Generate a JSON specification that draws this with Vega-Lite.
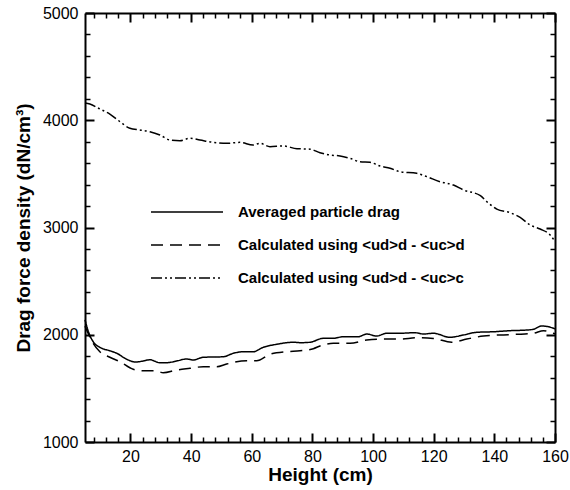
{
  "$schema": "https://vega.github.io/schema/vega-lite/v6.json",
  "width": 470,
  "height": 429,
  "autosize": {"type": "none"},
  "padding": {"left": 85, "top": 13, "right": 15, "bottom": 48},
  "background": "white",
  "config": {
    "view": {"stroke": null},
    "font": "Liberation Sans",
    "axis": {
      "grid": false,
      "ticks": true,
      "zindex": 1,
      "domainColor": "black",
      "domainWidth": 2,
      "tickColor": "black",
      "labelColor": "black",
      "labelFontSize": 16,
      "titleFontSize": 19,
      "titleFontWeight": "bold",
      "titleColor": "black",
      "labelFlush": false,
      "labelOverlap": false
    }
  },
  "data": {
    "values": [
      {"h": 5, "v": 2140, "s": "Averaged particle drag"},
      {"h": 6.1, "v": 2030, "s": "Averaged particle drag"},
      {"h": 7.7, "v": 1935, "s": "Averaged particle drag"},
      {"h": 9.9, "v": 1883, "s": "Averaged particle drag"},
      {"h": 13.2, "v": 1851, "s": "Averaged particle drag"},
      {"h": 15.5, "v": 1827, "s": "Averaged particle drag"},
      {"h": 18.8, "v": 1771, "s": "Averaged particle drag"},
      {"h": 21.5, "v": 1746, "s": "Averaged particle drag"},
      {"h": 24.2, "v": 1755, "s": "Averaged particle drag"},
      {"h": 26.4, "v": 1767, "s": "Averaged particle drag"},
      {"h": 29.7, "v": 1739, "s": "Averaged particle drag"},
      {"h": 31.9, "v": 1739, "s": "Averaged particle drag"},
      {"h": 35.2, "v": 1755, "s": "Averaged particle drag"},
      {"h": 38.5, "v": 1774, "s": "Averaged particle drag"},
      {"h": 40.7, "v": 1765, "s": "Averaged particle drag"},
      {"h": 44, "v": 1790, "s": "Averaged particle drag"},
      {"h": 50.6, "v": 1795, "s": "Averaged particle drag"},
      {"h": 53.9, "v": 1827, "s": "Averaged particle drag"},
      {"h": 57.2, "v": 1842, "s": "Averaged particle drag"},
      {"h": 60.5, "v": 1842, "s": "Averaged particle drag"},
      {"h": 63.8, "v": 1883, "s": "Averaged particle drag"},
      {"h": 68.2, "v": 1911, "s": "Averaged particle drag"},
      {"h": 73.7, "v": 1930, "s": "Averaged particle drag"},
      {"h": 76, "v": 1926, "s": "Averaged particle drag"},
      {"h": 79.2, "v": 1930, "s": "Averaged particle drag"},
      {"h": 83.6, "v": 1967, "s": "Averaged particle drag"},
      {"h": 86.9, "v": 1967, "s": "Averaged particle drag"},
      {"h": 90.2, "v": 1982, "s": "Averaged particle drag"},
      {"h": 95.1, "v": 1982, "s": "Averaged particle drag"},
      {"h": 97.9, "v": 2007, "s": "Averaged particle drag"},
      {"h": 101.2, "v": 1988, "s": "Averaged particle drag"},
      {"h": 104.5, "v": 2014, "s": "Averaged particle drag"},
      {"h": 108.9, "v": 2014, "s": "Averaged particle drag"},
      {"h": 113.8, "v": 2019, "s": "Averaged particle drag"},
      {"h": 116.6, "v": 2007, "s": "Averaged particle drag"},
      {"h": 119.9, "v": 2014, "s": "Averaged particle drag"},
      {"h": 125.4, "v": 1976, "s": "Averaged particle drag"},
      {"h": 129.8, "v": 1998, "s": "Averaged particle drag"},
      {"h": 134.2, "v": 2023, "s": "Averaged particle drag"},
      {"h": 139.7, "v": 2028, "s": "Averaged particle drag"},
      {"h": 145.2, "v": 2038, "s": "Averaged particle drag"},
      {"h": 150.7, "v": 2044, "s": "Averaged particle drag"},
      {"h": 152.9, "v": 2051, "s": "Averaged particle drag"},
      {"h": 155.6, "v": 2082, "s": "Averaged particle drag"},
      {"h": 157.8, "v": 2075, "s": "Averaged particle drag"},
      {"h": 160, "v": 2055, "s": "Averaged particle drag"},

      {"h": 5, "v": 2080, "s": "Calculated using <ud>d - <uc>d"},
      {"h": 7.7, "v": 1920, "s": "Calculated using <ud>d - <uc>d"},
      {"h": 9.9, "v": 1842, "s": "Calculated using <ud>d - <uc>d"},
      {"h": 13.2, "v": 1790, "s": "Calculated using <ud>d - <uc>d"},
      {"h": 16.5, "v": 1749, "s": "Calculated using <ud>d - <uc>d"},
      {"h": 20.9, "v": 1678, "s": "Calculated using <ud>d - <uc>d"},
      {"h": 24.2, "v": 1665, "s": "Calculated using <ud>d - <uc>d"},
      {"h": 28.1, "v": 1665, "s": "Calculated using <ud>d - <uc>d"},
      {"h": 30.8, "v": 1646, "s": "Calculated using <ud>d - <uc>d"},
      {"h": 35.2, "v": 1671, "s": "Calculated using <ud>d - <uc>d"},
      {"h": 39.6, "v": 1687, "s": "Calculated using <ud>d - <uc>d"},
      {"h": 44, "v": 1702, "s": "Calculated using <ud>d - <uc>d"},
      {"h": 48.4, "v": 1702, "s": "Calculated using <ud>d - <uc>d"},
      {"h": 51.7, "v": 1727, "s": "Calculated using <ud>d - <uc>d"},
      {"h": 58.3, "v": 1758, "s": "Calculated using <ud>d - <uc>d"},
      {"h": 61.6, "v": 1758, "s": "Calculated using <ud>d - <uc>d"},
      {"h": 66, "v": 1818, "s": "Calculated using <ud>d - <uc>d"},
      {"h": 71.5, "v": 1842, "s": "Calculated using <ud>d - <uc>d"},
      {"h": 75.9, "v": 1851, "s": "Calculated using <ud>d - <uc>d"},
      {"h": 80.3, "v": 1870, "s": "Calculated using <ud>d - <uc>d"},
      {"h": 82.5, "v": 1895, "s": "Calculated using <ud>d - <uc>d"},
      {"h": 86.9, "v": 1920, "s": "Calculated using <ud>d - <uc>d"},
      {"h": 92.4, "v": 1920, "s": "Calculated using <ud>d - <uc>d"},
      {"h": 97.9, "v": 1951, "s": "Calculated using <ud>d - <uc>d"},
      {"h": 103.4, "v": 1960, "s": "Calculated using <ud>d - <uc>d"},
      {"h": 108.9, "v": 1960, "s": "Calculated using <ud>d - <uc>d"},
      {"h": 114.4, "v": 1972, "s": "Calculated using <ud>d - <uc>d"},
      {"h": 119.9, "v": 1966, "s": "Calculated using <ud>d - <uc>d"},
      {"h": 125.9, "v": 1930, "s": "Calculated using <ud>d - <uc>d"},
      {"h": 130.9, "v": 1960, "s": "Calculated using <ud>d - <uc>d"},
      {"h": 136.4, "v": 1988, "s": "Calculated using <ud>d - <uc>d"},
      {"h": 141.9, "v": 1998, "s": "Calculated using <ud>d - <uc>d"},
      {"h": 147.4, "v": 2004, "s": "Calculated using <ud>d - <uc>d"},
      {"h": 152.9, "v": 2014, "s": "Calculated using <ud>d - <uc>d"},
      {"h": 156.2, "v": 2038, "s": "Calculated using <ud>d - <uc>d"},
      {"h": 159.5, "v": 2014, "s": "Calculated using <ud>d - <uc>d"},
      {"h": 160, "v": 2008, "s": "Calculated using <ud>d - <uc>d"},

      {"h": 5, "v": 4160, "s": "Calculated using <ud>d - <uc>c"},
      {"h": 6.6, "v": 4151, "s": "Calculated using <ud>d - <uc>c"},
      {"h": 9.9, "v": 4105, "s": "Calculated using <ud>d - <uc>c"},
      {"h": 13.2, "v": 4058, "s": "Calculated using <ud>d - <uc>c"},
      {"h": 16.5, "v": 3987, "s": "Calculated using <ud>d - <uc>c"},
      {"h": 19.8, "v": 3925, "s": "Calculated using <ud>d - <uc>c"},
      {"h": 23.1, "v": 3909, "s": "Calculated using <ud>d - <uc>c"},
      {"h": 26.4, "v": 3893, "s": "Calculated using <ud>d - <uc>c"},
      {"h": 29.7, "v": 3862, "s": "Calculated using <ud>d - <uc>c"},
      {"h": 33, "v": 3816, "s": "Calculated using <ud>d - <uc>c"},
      {"h": 36.3, "v": 3809, "s": "Calculated using <ud>d - <uc>c"},
      {"h": 39.6, "v": 3832, "s": "Calculated using <ud>d - <uc>c"},
      {"h": 42.9, "v": 3816, "s": "Calculated using <ud>d - <uc>c"},
      {"h": 47.2, "v": 3794, "s": "Calculated using <ud>d - <uc>c"},
      {"h": 51.8, "v": 3785, "s": "Calculated using <ud>d - <uc>c"},
      {"h": 56.1, "v": 3794, "s": "Calculated using <ud>d - <uc>c"},
      {"h": 60.4, "v": 3769, "s": "Calculated using <ud>d - <uc>c"},
      {"h": 62.7, "v": 3785, "s": "Calculated using <ud>d - <uc>c"},
      {"h": 66, "v": 3753, "s": "Calculated using <ud>d - <uc>c"},
      {"h": 70.3, "v": 3760, "s": "Calculated using <ud>d - <uc>c"},
      {"h": 74.9, "v": 3735, "s": "Calculated using <ud>d - <uc>c"},
      {"h": 79.2, "v": 3730, "s": "Calculated using <ud>d - <uc>c"},
      {"h": 82.5, "v": 3697, "s": "Calculated using <ud>d - <uc>c"},
      {"h": 85.8, "v": 3676, "s": "Calculated using <ud>d - <uc>c"},
      {"h": 89.1, "v": 3667, "s": "Calculated using <ud>d - <uc>c"},
      {"h": 92.4, "v": 3645, "s": "Calculated using <ud>d - <uc>c"},
      {"h": 95.7, "v": 3613, "s": "Calculated using <ud>d - <uc>c"},
      {"h": 99, "v": 3608, "s": "Calculated using <ud>d - <uc>c"},
      {"h": 102.3, "v": 3573, "s": "Calculated using <ud>d - <uc>c"},
      {"h": 105.6, "v": 3552, "s": "Calculated using <ud>d - <uc>c"},
      {"h": 108.9, "v": 3520, "s": "Calculated using <ud>d - <uc>c"},
      {"h": 114.4, "v": 3505, "s": "Calculated using <ud>d - <uc>c"},
      {"h": 117.7, "v": 3474, "s": "Calculated using <ud>d - <uc>c"},
      {"h": 122.1, "v": 3427, "s": "Calculated using <ud>d - <uc>c"},
      {"h": 126.5, "v": 3396, "s": "Calculated using <ud>d - <uc>c"},
      {"h": 129.8, "v": 3350, "s": "Calculated using <ud>d - <uc>c"},
      {"h": 135.4, "v": 3297, "s": "Calculated using <ud>d - <uc>c"},
      {"h": 137.5, "v": 3241, "s": "Calculated using <ud>d - <uc>c"},
      {"h": 140.8, "v": 3172, "s": "Calculated using <ud>d - <uc>c"},
      {"h": 145.2, "v": 3138, "s": "Calculated using <ud>d - <uc>c"},
      {"h": 148.5, "v": 3095, "s": "Calculated using <ud>d - <uc>c"},
      {"h": 151.8, "v": 3023, "s": "Calculated using <ud>d - <uc>c"},
      {"h": 155.1, "v": 2986, "s": "Calculated using <ud>d - <uc>c"},
      {"h": 158.4, "v": 2930, "s": "Calculated using <ud>d - <uc>c"},
      {"h": 160, "v": 2870, "s": "Calculated using <ud>d - <uc>c"}
    ]
  },
  "layer": [
    {
      "mark": {"type": "line", "interpolate": "monotone", "strokeWidth": 1.5, "color": "black"},
      "encoding": {
        "x": {
          "field": "h",
          "type": "quantitative",
          "scale": {"domain": [5, 160], "nice": false, "zero": false},
          "axis": {
            "orient": "bottom",
            "title": "Height (cm)",
            "titlePadding": 1,
            "values": [20, 40, 60, 80, 100, 120, 140, 160],
            "format": "d",
            "zindex": 1,
            "labelPadding": 15,
            "tickSize": -9,
            "tickWidth": 2
          }
        },
        "y": {
          "field": "v",
          "type": "quantitative",
          "scale": {"domain": [1000, 5000], "nice": false, "zero": false},
          "axis": {
            "orient": "left",
            "title": "Drag force density (dN/cm³)",
            "titlePadding": 9,
            "values": [1000, 2000, 3000, 4000, 5000],
            "format": "d",
            "zindex": 1,
            "labelPadding": 16,
            "tickSize": -9,
            "tickWidth": 2
          }
        },
        "strokeDash": {
          "field": "s",
          "type": "nominal",
          "scale": {
            "domain": ["Averaged particle drag", "Calculated using <ud>d - <uc>d", "Calculated using <ud>d - <uc>c"],
            "range": [[1, 0], [12, 7], [11, 3, 2, 3, 2, 3]]
          },
          "legend": {
            "orient": "none",
            "legendX": 65,
            "legendY": 190,
            "title": null,
            "symbolType": "stroke",
            "symbolSize": 5184,
            "symbolStrokeWidth": 1.5,
            "symbolStrokeColor": "black",
            "clipHeight": 18,
            "rowPadding": 15,
            "labelOffset": 14,
            "labelFontSize": 15,
            "labelFontWeight": "bold",
            "labelColor": "black",
            "labelLimit": 400
          }
        }
      }
    },
    {
      "mark": {"type": "line", "opacity": 0},
      "encoding": {
        "x": {
          "field": "h",
          "type": "quantitative",
          "axis": {
            "orient": "bottom",
            "title": null,
            "labels": false,
            "domain": false,
            "zindex": 1,
            "values": [8, 12, 16, 24, 28, 32, 36, 44, 48, 52, 56, 64, 68, 72, 76, 84, 88, 92, 96, 104, 108, 112, 116, 124, 128, 132, 136, 144, 148, 152, 156],
            "tickSize": -5,
            "tickWidth": 1.5
          }
        },
        "y": {
          "field": "v",
          "type": "quantitative",
          "axis": {
            "orient": "left",
            "title": null,
            "labels": false,
            "domain": false,
            "zindex": 1,
            "values": [1200, 1400, 1600, 1800, 2200, 2400, 2600, 2800, 3200, 3400, 3600, 3800, 4200, 4400, 4600, 4800],
            "tickSize": -5,
            "tickWidth": 1.5
          }
        }
      }
    },
    {
      "mark": {"type": "line", "opacity": 0},
      "encoding": {
        "x": {
          "field": "h",
          "type": "quantitative",
          "axis": {
            "orient": "top",
            "title": null,
            "labels": false,
            "zindex": 1,
            "values": [20, 40, 60, 80, 100, 120, 140, 160],
            "tickSize": -9,
            "tickWidth": 2
          }
        },
        "y": {
          "field": "v",
          "type": "quantitative",
          "axis": {
            "orient": "right",
            "title": null,
            "labels": false,
            "zindex": 1,
            "values": [1000, 2000, 3000, 4000, 5000],
            "tickSize": -9,
            "tickWidth": 2
          }
        }
      }
    },
    {
      "mark": {"type": "line", "opacity": 0},
      "encoding": {
        "x": {
          "field": "h",
          "type": "quantitative",
          "axis": {
            "orient": "top",
            "title": null,
            "labels": false,
            "domain": false,
            "zindex": 1,
            "values": [8, 12, 16, 24, 28, 32, 36, 44, 48, 52, 56, 64, 68, 72, 76, 84, 88, 92, 96, 104, 108, 112, 116, 124, 128, 132, 136, 144, 148, 152, 156],
            "tickSize": -5,
            "tickWidth": 1.5
          }
        },
        "y": {
          "field": "v",
          "type": "quantitative",
          "axis": {
            "orient": "right",
            "title": null,
            "labels": false,
            "domain": false,
            "zindex": 1,
            "values": [1200, 1400, 1600, 1800, 2200, 2400, 2600, 2800, 3200, 3400, 3600, 3800, 4200, 4400, 4600, 4800],
            "tickSize": -5,
            "tickWidth": 1.5
          }
        }
      }
    }
  ],
  "resolve": {"axis": {"x": "independent", "y": "independent"}}
}
